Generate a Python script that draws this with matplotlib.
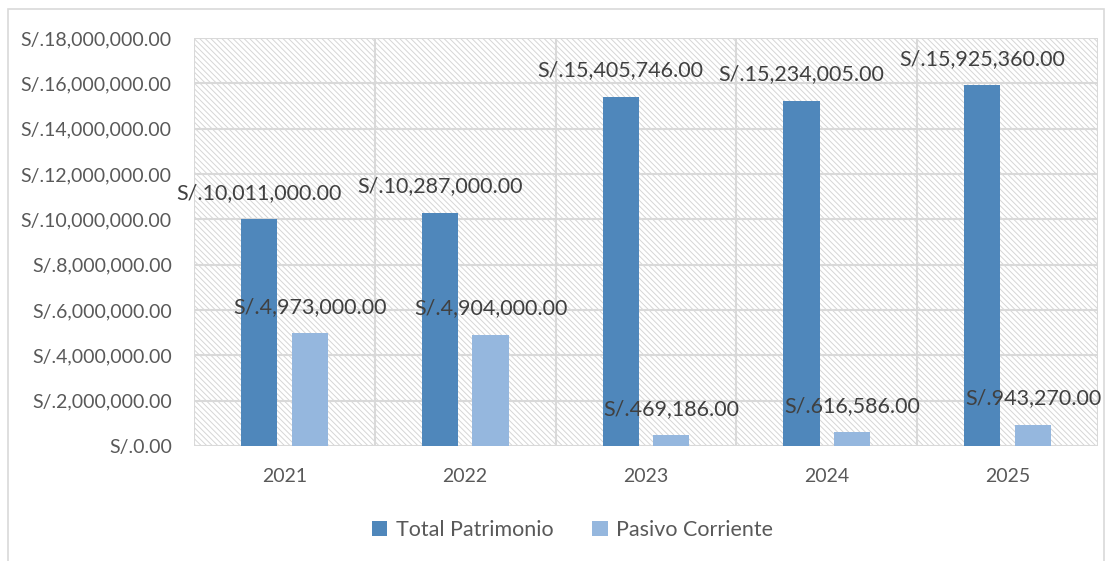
import matplotlib
matplotlib.use('Agg')
import matplotlib.pyplot as plt
from matplotlib.patches import Rectangle
import numpy as np

years = ['2021', '2022', '2023', '2024', '2025']
total_patrimonio = [10011000.00, 10287000.00, 15405746.00, 15234005.00, 15925360.00]
pasivo_corriente = [4973000.00, 4904000.00, 469186.00, 616586.00, 943270.00]
y_ticks = [0, 2000000, 4000000, 6000000, 8000000, 10000000, 12000000, 14000000, 16000000, 18000000]

dark = '#4f87bb'
light = '#95b7de'
txt = '#595959'
grid = '#d9d9d9'

plt.rcParams['font.family'] = ['Lato', 'DejaVu Sans']
plt.rcParams['hatch.color'] = '#d6d6d6'
plt.rcParams['hatch.linewidth'] = 0.7

def money(v):
    return 'S/.{:,.2f}'.format(v)

fig = plt.figure(figsize=(11.13, 5.61), dpi=100)
fig.patches.append(Rectangle((8 / 1113, -0.02), 1096 / 1113, 1.02 - 9 / 561, transform=fig.transFigure,
                             fill=False, edgecolor='#d9d9d9', lw=1.2))
ax = fig.add_axes([194 / 1113, 1 - 446 / 561, 904 / 1113, 408 / 561])

x = np.arange(len(years))
off = 0.14
w = 0.2

# hatched plot area
ax.add_patch(Rectangle((0, 0), 1, 1, transform=ax.transAxes, facecolor='white',
                       hatch='\\' * 6, edgecolor='#d6d6d6', lw=0, zorder=0))

b1 = ax.bar(x - off, total_patrimonio, w, color=dark, label='Total Patrimonio', zorder=3)
b2 = ax.bar(x + off, pasivo_corriente, w, color=light, label='Pasivo Corriente', zorder=3)

for bars, vals in ((b1, total_patrimonio), (b2, pasivo_corriente)):
    for r, v in zip(bars, vals):
        ax.annotate(money(v), (r.get_x() + r.get_width() / 2, v), xytext=(0, 19),
                    textcoords='offset points', ha='center', va='center',
                    fontsize=15.5, color='#404040', zorder=4)

ax.set_xlim(-0.5, 4.5)
ax.set_ylim(0, 18000000)
ax.set_yticks(y_ticks)
ax.set_yticklabels([money(t) for t in y_ticks])
ax.set_xticks(x)
ax.set_xticklabels(years)
ax.tick_params(length=0, labelsize=14, colors=txt, pad=16)
ax.tick_params(axis='x', pad=16)

for t in y_ticks:
    ax.axhline(t, color=grid, lw=1.5, zorder=1)
for b in np.arange(-0.5, 5, 1):
    ax.axvline(b, color=grid, lw=1.5, zorder=1)
for s in ax.spines.values():
    s.set_visible(False)

ax.legend(loc='center', bbox_to_anchor=(0.419, -0.206), ncol=2, frameon=False,
          fontsize=15.5, labelcolor=txt, handlelength=0.7, handleheight=0.7,
          columnspacing=1.8, handletextpad=0.4)

fig.savefig('out.png', dpi=100)
